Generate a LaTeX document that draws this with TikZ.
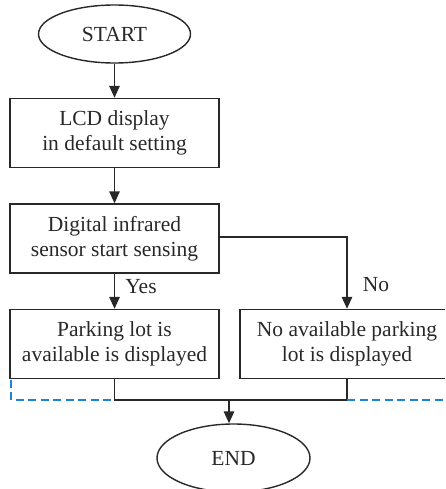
\documentclass[tikz,border=0pt]{standalone}
\usepackage{fontspec}
\setmainfont{Liberation Serif}
\usetikzlibrary{shapes.geometric,arrows.meta}
\definecolor{linegray}{RGB}{40,40,40}
\definecolor{guideblue}{RGB}{30,132,210}
\tikzset{
  base/.style={draw=linegray, line width=1.4pt, align=center, inner sep=0pt,
    font=\fontsize{21.5}{25}\selectfont, text=linegray},
  stepbox/.style={base, rectangle, minimum width=209pt, minimum height=69pt},
  terminal/.style={base, ellipse, minimum width=152pt, minimum height=58pt},
  flow/.style={draw=linegray, line width=1.4pt, -{Triangle[length=12pt,width=10.5pt]}},
  plain/.style={draw=linegray, line width=1.4pt},
  guide/.style={draw=guideblue, line width=1.2pt, dash pattern=on 8pt off 4.5pt},
  lbl/.style={font=\fontsize{21.5}{25}\selectfont, text=linegray, inner sep=0pt}
}
\begin{document}
\begin{tikzpicture}[x=1pt,y=-1pt]
  \useasboundingbox (0,0) rectangle (445,489);
  \clip (0,0) rectangle (445,489);

  \node[terminal] (start) at (114.5,34) {START};
  \node[stepbox] (lcd) at (114.5,133) {LCD display\\in default setting};
  \node[stepbox] (dig) at (114.5,238.5) {Digital infrared\\sensor start sensing};
  \node[stepbox] (yesbox) at (114.5,344) {Parking lot is\\available is displayed};
  % the right-hand box runs past the right margin
  \node[stepbox, minimum width=214pt] (nobox) at (347,344) {No available parking\\lot is displayed};
  \node[terminal, minimum width=153pt, minimum height=68pt] (end) at (233.5,458) {END};

  \coordinate (noturn) at (347,237);
  \coordinate (jl) at (114.5,400);
  \coordinate (jr) at (347,400);
  \coordinate (jm) at (229,400);

  \draw[flow] (start) -- (lcd);
  \draw[flow] (lcd) -- (dig);
  \draw[flow] (dig) -- (yesbox);
  \draw[flow] (dig.east |- noturn) -- (noturn) -- (noturn |- nobox.north);

  \node[lbl] (yes) at (141,287) {Yes};
  \node[lbl] (no) at (376,285) {No};

  \draw[plain] (yesbox.south -| jl) -- (jl) -- (jr) -- (jr |- nobox.south);
  \draw[flow] (jm) -- (jm |- end.north);

  \draw[guide] (11,379.5) -- (11,400) -- (jl);
  \draw[guide] (jr) -- (446,400);
\end{tikzpicture}
\end{document}
